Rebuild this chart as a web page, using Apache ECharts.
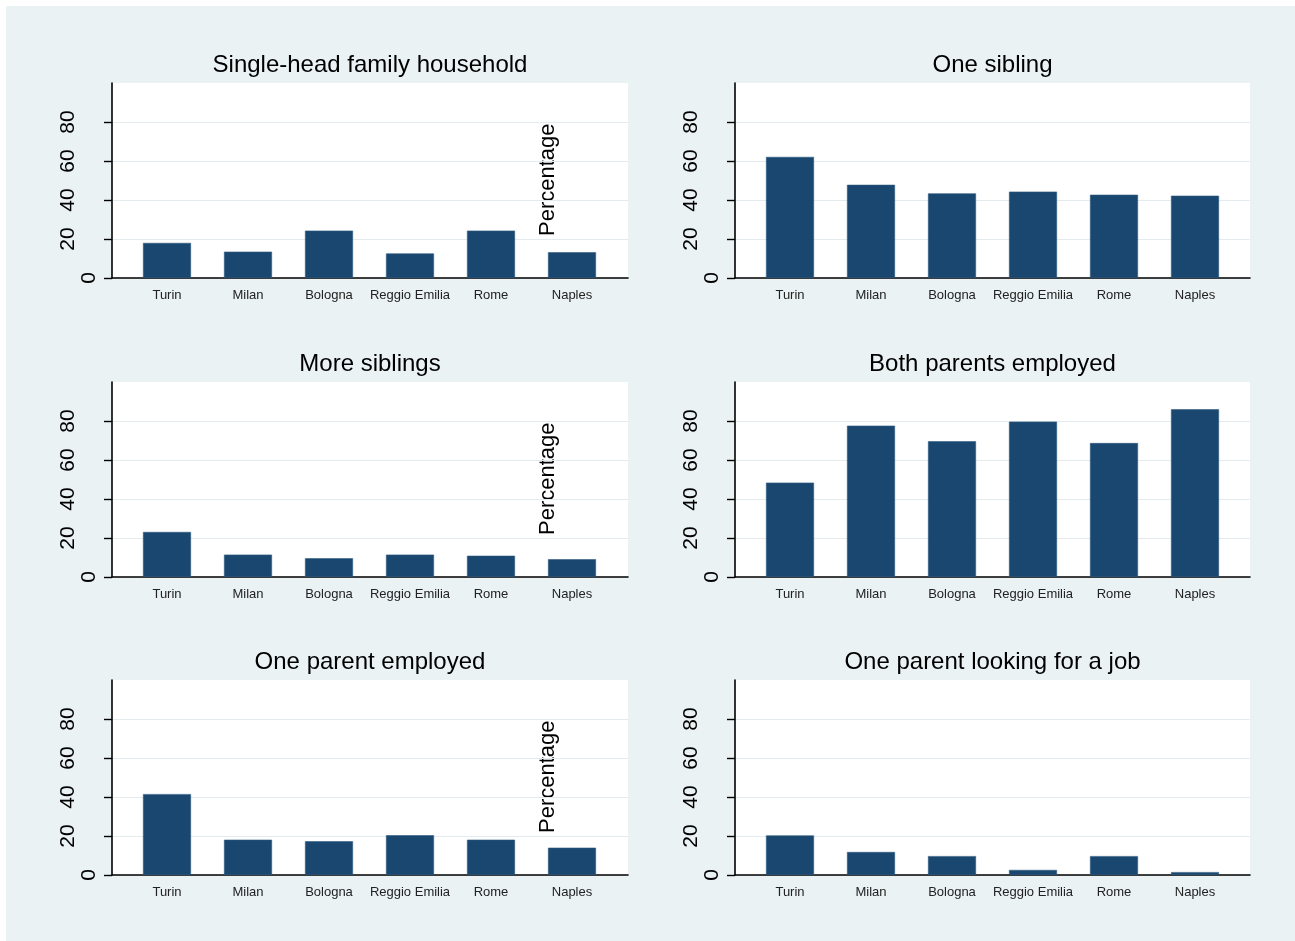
<!DOCTYPE html>
<html>
<head>
<meta charset="utf-8">
<script src="https://cdn.jsdelivr.net/npm/echarts@6/dist/echarts.min.js"></script>
<style>
html,body{margin:0;padding:0;background:#fff;}
#chart{width:1295px;height:941px;}
</style>
</head>
<body>
<div id="chart"></div>
<script>
// ---- data ----
const categories = ['Turin', 'Milan', 'Bologna', 'Reggio Emilia', 'Rome', 'Naples'];
const singleHead   = [18.0, 13.5, 24.3, 12.6, 24.3, 13.2];
const oneSibling   = [62.1, 47.8, 43.4, 44.3, 42.7, 42.2];
const moreSiblings = [23.1, 11.5, 9.6, 11.5, 10.9, 9.1];
const bothEmployed = [48.4, 77.6, 69.6, 79.7, 68.7, 86.0];
const oneEmployed  = [41.5, 18.1, 17.3, 20.4, 18.1, 14.0];
const oneLooking   = [20.3, 11.8, 9.7, 2.6, 9.7, 1.5];
const yTickValues  = [0, 20, 40, 60, 80];
const titles = ['Single-head family household', 'One sibling', 'More siblings',
                'Both parents employed', 'One parent employed', 'One parent looking for a job'];
const yTitle = 'Percentage';

// ---- layout / style ----
const FONT = "'Liberation Sans', Arial, Helvetica, sans-serif";
const BAR = '#1a476f';
const BG = '#eaf2f3';
const GRIDLINE = '#e3ebee';
const frameCols = [[112, 628], [735, 1250]];
const barCols = [[126.5, 612.5], [749.5, 1235.5]];
const rowBase = [278, 577, 875];
const PLOT_H = 195;

const panels = [
  {title: titles[0], data: singleHead, row: 0, col: 0},
  {title: titles[1], data: oneSibling, row: 0, col: 1},
  {title: titles[2], data: moreSiblings, row: 1, col: 0},
  {title: titles[3], data: bothEmployed, row: 1, col: 1},
  {title: titles[4], data: oneEmployed, row: 2, col: 0},
  {title: titles[5], data: oneLooking, row: 2, col: 1}
];

const grid = [], xAxis = [], yAxis = [], series = [];
const graphic = [{
  type: 'rect', z: -10, silent: true,
  shape: {x: 6, y: 6, width: 1289, height: 935},
  style: {fill: BG}
}];

panels.forEach((p, i) => {
  const base = rowBase[p.row];
  const [fx0, fx1] = frameCols[p.col];
  const [bx0, bx1] = barCols[p.col];
  const gFrame = 2 * i, gBar = 2 * i + 1;
  grid.push({left: fx0, top: base - PLOT_H, width: fx1 - fx0, height: PLOT_H,
             show: true, backgroundColor: '#fff', borderWidth: 0});
  grid.push({left: bx0, top: base - PLOT_H, width: bx1 - bx0, height: PLOT_H, show: false});

  // frame axes
  xAxis.push({type: 'value', gridIndex: gFrame, min: 0, max: 1,
    axisLine: {show: true, onZero: false, lineStyle: {color: '#000', width: 1.6}},
    axisTick: {show: false}, axisLabel: {show: false}, splitLine: {show: false}});
  yAxis.push({type: 'value', gridIndex: gFrame, min: 0, max: 100, interval: 20,
    axisLine: {show: true, lineStyle: {color: '#000', width: 1.6}},
    axisTick: {show: true, length: 8, customValues: yTickValues, lineStyle: {color: '#000', width: 1.4}},
    axisLabel: {show: true, rotate: 90, margin: 33, fontSize: 21, fontFamily: FONT, color: '#000',
      customValues: yTickValues.filter(v => v !== 0)},
    splitLine: {show: true, lineStyle: {color: GRIDLINE, width: 1.2}}});

  // bar axes
  xAxis.push({type: 'category', gridIndex: gBar, data: categories,
    axisLine: {show: false}, axisTick: {show: false},
    axisLabel: {interval: 0, fontSize: 13, fontFamily: FONT, color: '#222', margin: 11},
    splitLine: {show: false}});
  yAxis.push({type: 'value', gridIndex: gBar, min: 0, max: 100, interval: 20,
    axisLine: {show: false}, axisTick: {show: false}, splitLine: {show: false},
    axisLabel: {show: true, rotate: 90, margin: 27, fontSize: 21, fontFamily: FONT, color: '#000',
      customValues: [yTickValues[0]]}});

  series.push({type: 'bar', xAxisIndex: gBar, yAxisIndex: gBar, data: p.data,
    barWidth: 48, itemStyle: {color: BAR, borderColor: '#2d5a82', borderWidth: 0.6},
    silent: true, animation: false});

  graphic.push({type: 'text', silent: true, x: (fx0 + fx1) / 2, y: base - 213,
    style: {text: p.title, font: '24px ' + FONT, fill: '#000', align: 'center', verticalAlign: 'middle'}});
  if (p.col === 0) {
    graphic.push({type: 'text', silent: true, x: 548, y: base - 42, rotation: Math.PI / 2,
      style: {text: yTitle, font: '22px ' + FONT, fill: '#000', align: 'left', verticalAlign: 'middle'}});
  }
});

const chart = echarts.init(document.getElementById('chart'), null, {renderer: 'canvas'});
chart.setOption({
  backgroundColor: '#fff',
  animation: false,
  grid, xAxis, yAxis, series, graphic
});
</script>
</body>
</html>
